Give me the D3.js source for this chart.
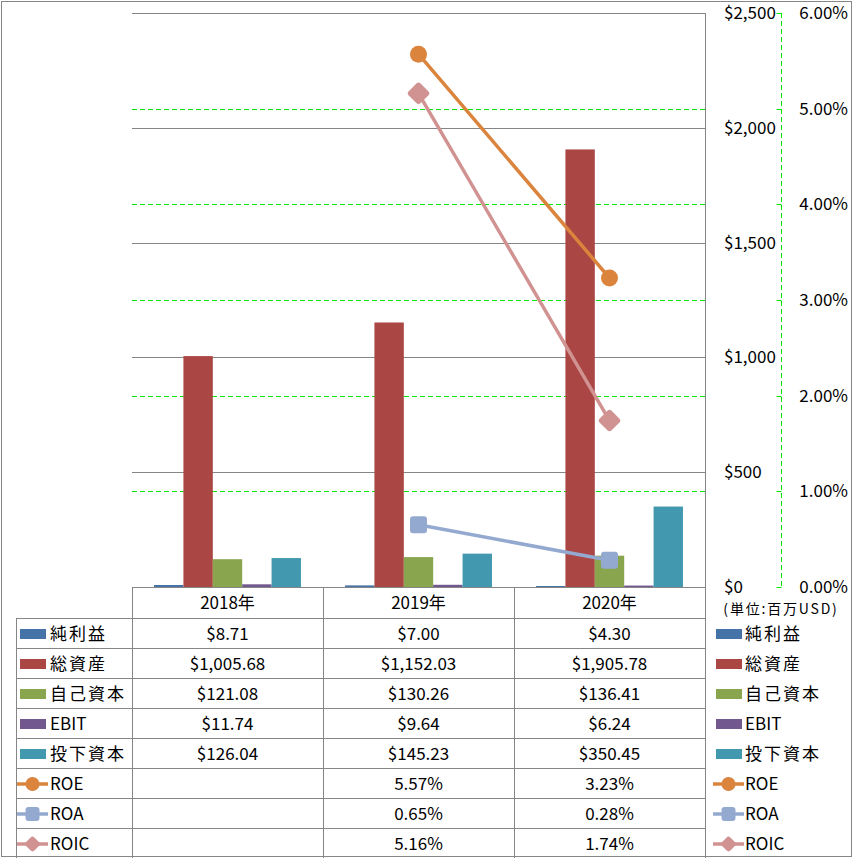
<!DOCTYPE html>
<html><head><meta charset="utf-8">
<script src="https://cdn.jsdelivr.net/npm/d3@7"></script>
<style>
html,body{margin:0;padding:0;background:#fff;}
svg text{font-family:"Noto Sans CJK JP","Noto Sans",sans-serif;fill:#000;}
</style></head><body>
<svg id="c" width="853" height="858"></svg>
<script>
const years = ["2018年","2019年","2020年"];
const barSeries = ["純利益","総資産","自己資本","EBIT","投下資本"];
const barColors = ["#4572A7","#AA4643","#89A54E","#71588F","#4198AF"];
const netIncome = [8.71, 7.00, 4.30];
const totalAssets = [1005.68, 1152.03, 1905.78];
const equity = [121.08, 130.26, 136.41];
const ebit = [11.74, 9.64, 6.24];
const investedCapital = [126.04, 145.23, 350.45];
const barValues = [netIncome, totalAssets, equity, ebit, investedCapital];
const barLabels = [
  ["$8.71","$7.00","$4.30"],
  ["$1,005.68","$1,152.03","$1,905.78"],
  ["$121.08","$130.26","$136.41"],
  ["$11.74","$9.64","$6.24"],
  ["$126.04","$145.23","$350.45"]
];
const lineSeries = ["ROE","ROA","ROIC"];
const lineColors = ["#DB843D","#93A9CF","#D19392"];
const roe = [null, 0.0557, 0.0323];
const roa = [null, 0.0065, 0.0028];
const roic = [null, 0.0516, 0.0174];
const lineValues = [roe, roa, roic];
const lineLabels = [["","5.57%","3.23%"],["","0.65%","0.28%"],["","5.16%","1.74%"]];
const markers = ["circle","square","diamond"];
const yTicks = [0,500,1000,1500,2000,2500];
const yTickLabels = ["$0","$500","$1,000","$1,500","$2,000","$2,500"];
const y2Ticks = [0,0.01,0.02,0.03,0.04,0.05,0.06];
const y2TickLabels = ["0.00%","1.00%","2.00%","3.00%","4.00%","5.00%","6.00%"];
const unitLabel = "(単位:百万USD)";

const svg = d3.select("#c");
const L = 132, R = 705, T = 13, B = 587;
const FS = 17;
const x0 = d3.scaleBand().domain(years).range([L, R]).padding(0);
const x1 = d3.scaleBand().domain(barSeries).range([0, x0.bandwidth()]).paddingInner(0).paddingOuter(0.75);
const y = d3.scaleLinear().domain([0,2500]).range([B, T]);
const y2 = d3.scaleLinear().domain([0,0.06]).range([B, T]);
const gray = "#868686";

svg.append("rect").attr("x",1.5).attr("y",1.5).attr("width",850).attr("height",855)
  .attr("fill","none").attr("stroke",gray).attr("stroke-width",1);

svg.append("g").selectAll("line").data(yTicks.slice(1)).join("line")
  .attr("x1",L).attr("x2",R).attr("y1",d=>Math.round(y(d))+0.5).attr("y2",d=>Math.round(y(d))+0.5)
  .attr("stroke",gray).attr("stroke-width",1);
svg.append("g").selectAll("line").data(y2Ticks.slice(1,6)).join("line")
  .attr("x1",L).attr("x2",R).attr("y1",d=>Math.round(y2(d))+0.5).attr("y2",d=>Math.round(y2(d))+0.5)
  .attr("stroke","#00E600").attr("stroke-width",1).attr("stroke-dasharray","5,3");

svg.append("line").attr("x1",R+0.5).attr("x2",R+0.5).attr("y1",T).attr("y2",B)
  .attr("stroke",gray);
svg.append("g").selectAll("text").data(yTicks).join("text")
  .attr("x",724).attr("y",d=>y(d)).attr("dy","0.35em").attr("font-size",FS)
  .text((d,i)=>yTickLabels[i]);

const ax2 = 781.5;
svg.append("line").attr("x1",ax2).attr("x2",ax2).attr("y1",T).attr("y2",B)
  .attr("stroke","#00E600").attr("stroke-dasharray","5,3");
svg.append("g").selectAll("line").data(y2Ticks).join("line")
  .attr("x1",ax2-5).attr("x2",ax2).attr("y1",d=>Math.round(y2(d))+0.5).attr("y2",d=>Math.round(y2(d))+0.5)
  .attr("stroke","#00E600");
svg.append("g").selectAll("text").data(y2Ticks).join("text")
  .attr("x",848).attr("y",d=>y2(d)).attr("dy","0.35em").attr("font-size",FS).attr("text-anchor","end")
  .text((d,i)=>y2TickLabels[i]);
svg.append("text").attr("x",781).attr("y",609).attr("dy","0.35em").attr("font-size",14)
  .attr("letter-spacing",1.8).attr("text-anchor","middle").text(unitLabel);

barSeries.forEach((s,si)=>{
  svg.append("g").selectAll("rect").data(years).join("rect")
    .attr("x",d=>x0(d)+x1(s)).attr("width",x1.bandwidth())
    .attr("y",(d,i)=>y(barValues[si][i])).attr("height",(d,i)=>B-y(barValues[si][i]))
    .attr("fill",barColors[si]);
});

function drawMarker(g, type, cx, cy, color, size){
  if(type==="circle"){
    g.append("circle").attr("cx",cx).attr("cy",cy).attr("r",size/2).attr("fill",color);
  } else if(type==="square"){
    g.append("rect").attr("x",cx-size/2).attr("y",cy-size/2).attr("width",size).attr("height",size)
      .attr("rx",3).attr("fill",color);
  } else {
    const h = size*0.4;
    g.append("rect").attr("x",cx-h).attr("y",cy-h).attr("width",2*h).attr("height",2*h)
      .attr("rx",3).attr("fill",color).attr("transform",`rotate(45 ${cx} ${cy})`);
  }
}
const cx = d=>x0(d)+x0.bandwidth()/2;
lineSeries.forEach((s,si)=>{
  const pts = years.map((d,i)=>[d,lineValues[si][i]]).filter(p=>p[1]!==null);
  const line = d3.line().x(p=>cx(p[0])).y(p=>y2(p[1]));
  svg.append("path").datum(pts).attr("d",line).attr("fill","none")
    .attr("stroke",lineColors[si]).attr("stroke-width",3.5).attr("stroke-linecap","round");
  const g = svg.append("g");
  pts.forEach(p=>drawMarker(g, markers[si], cx(p[0]), y2(p[1]), lineColors[si], markers[si]==="diamond"?21:17));
});

svg.append("line").attr("x1",L).attr("x2",R).attr("y1",B+0.5).attr("y2",B+0.5).attr("stroke",gray);

const rowTop = 618, rowH = 30, nRows = 8, tableBottom = rowTop + rowH*nRows;
const tg = svg.append("g");
[L, x0("2019年"), x0("2020年"), R].forEach(xv=>{
  tg.append("line").attr("x1",Math.round(xv)+0.5).attr("x2",Math.round(xv)+0.5)
    .attr("y1",B).attr("y2",tableBottom).attr("stroke",gray);
});
tg.append("line").attr("x1",16.5).attr("x2",16.5).attr("y1",rowTop).attr("y2",tableBottom).attr("stroke",gray);
d3.range(nRows).forEach(r=>{
  const yy = rowTop + r*rowH + 0.5;
  tg.append("line").attr("x1",16).attr("x2",R).attr("y1",yy).attr("y2",yy).attr("stroke",gray);
});
tg.selectAll("text.hdr").data(years).join("text").attr("class","hdr")
  .attr("x",cx).attr("y",(B+rowTop)/2+1).attr("dy","0.35em").attr("text-anchor","middle")
  .attr("font-size",FS).text(d=>d);

const rowNames = barSeries.concat(lineSeries);
const rowLabels = barLabels.concat(lineLabels);
rowNames.forEach((name,r)=>{
  const yc = rowTop + r*rowH + rowH/2 + 1;
  years.forEach((yr,i)=>{
    tg.append("text").attr("x",cx(yr)).attr("y",yc).attr("dy","0.35em").attr("text-anchor","middle")
      .attr("font-size",FS).text(rowLabels[r][i]);
  });
  [[20,50],[716,745]].forEach(([kx,tx])=>{
    if(r<5){
      tg.append("rect").attr("x",kx).attr("y",yc-5).attr("width",26).attr("height",10).attr("fill",barColors[r]);
    } else {
      const li = r-5;
      tg.append("line").attr("x1",kx-3).attr("x2",kx+28).attr("y1",yc).attr("y2",yc)
        .attr("stroke",lineColors[li]).attr("stroke-width",3.5);
      drawMarker(tg, markers[li], kx+12.5, yc, lineColors[li], li===2?15:14);
    }
    const isCJK = r<5 && r!==3;
    tg.append("text").attr("x",tx).attr("y",yc).attr("dy","0.35em").attr("font-size",FS)
      .attr("letter-spacing",isCJK?2:0).text(name);
  });
});
</script></body></html>
